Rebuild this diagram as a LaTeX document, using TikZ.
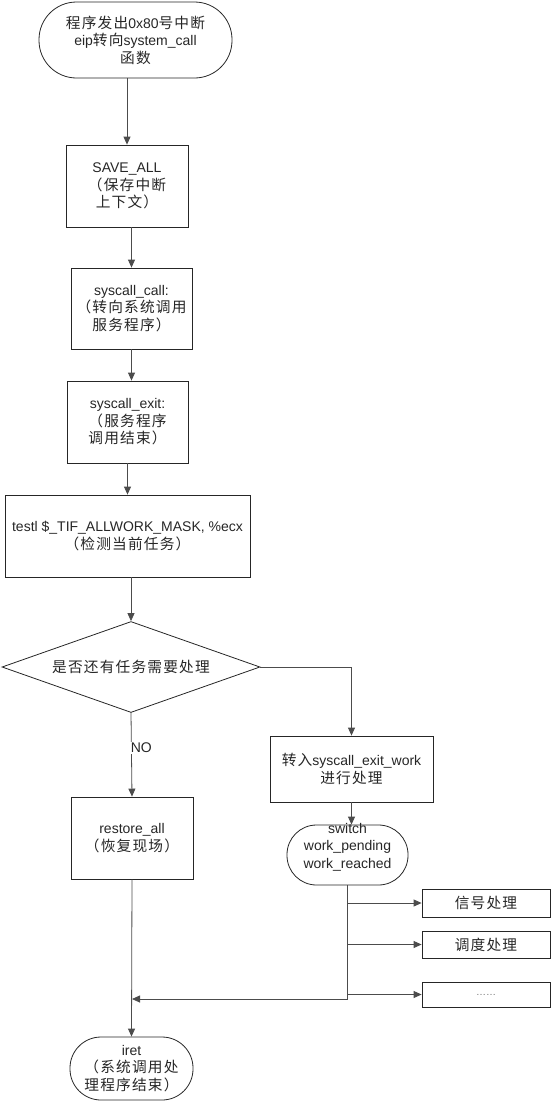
\documentclass[tikz,border=0pt]{standalone}
\usepackage{fontspec}
\setmainfont{Liberation Sans}
\newfontfamily\cjk[Scale=1.05,LetterSpace=8]{Noto Sans CJK SC}
\newcommand{\zh}[1]{{\cjk #1}}
\usetikzlibrary{shapes,arrows.meta,positioning}

\begin{document}
\begin{tikzpicture}[x=1pt,y=-1pt,
    every node/.style={font=\fontsize{14}{17.5}\selectfont, align=center, text=black!85},
    box/.style={draw=black!85, line width=0.8pt, inner sep=0pt},
    term/.style={box, rounded corners=#1},
    arr/.style={draw=black!70, line width=0.8pt, -{Triangle[length=8pt,width=7pt]}}]
            \useasboundingbox (0,0) rectangle (554,1103);

            % the main column
            \node[term=37.5pt, minimum width=193pt, minimum height=76pt] (start) at (135.5,40)
              {\zh{程序发出}0x80\zh{号中断}\\eip\zh{转向}system\_call\\\zh{函数}};
            \node[box, minimum width=122pt, minimum height=82pt] (save) at (127,186)
              {SAVE\_ALL\\\zh{（保存中断}\\\zh{上下文）}};
            \node[box, minimum width=121pt, minimum height=81pt] (call) at (131.5,308.5)
              {syscall\_call:\\\zh{（转向系统调用}\\\zh{服务程序）}};
            \node[box, minimum width=121pt, minimum height=82pt] (exit) at (127.5,422)
              {syscall\_exit:\\\zh{（服务程序}\\\zh{调用结束）}};
            \node[box, minimum width=245pt, minimum height=82pt] (testl) at (127.5,536)
              {testl \$\_TIF\_ALLWORK\_MASK, \%ecx\\\zh{（检测当前任务）}};
            \node[box, diamond, aspect=2.84, minimum width=258pt, minimum height=91pt] (decision) at (131,667)
              {\zh{是否还有任务需要处理}};
            \node[box, minimum width=122pt, minimum height=82pt] (restore) at (132,838)
              {restore\_all\\\zh{（恢复现场）}};
            \node[term=31pt, minimum width=123pt, minimum height=63pt] (iret) at (131.5,1068.5)
              {iret\\\zh{（系统调用处}\\\zh{理程序结束）}};

            % the work branch
            \node[box, minimum width=163pt, minimum height=66pt] (work) at (351.5,769)
              {\zh{转入}syscall\_exit\_work\\\zh{进行处理}};
            \node[term=29.5pt, minimum width=121pt, minimum height=60pt,
              label={[yshift=8pt]center:{switch\\work\_pending\\work\_reached}}] (switch) at (347.5,855) {};
            \node[box, minimum width=128pt, minimum height=28pt] (sig) at (486,903) {\zh{信号处理}};
            \node[box, minimum width=128pt, minimum height=27pt] (sched) at (486,944.5) {\zh{调度处理}};
            \node[box, minimum width=128pt, minimum height=25pt] (more) at (486,994.5)
              {\fontsize{10}{12}\selectfont\color{black!55}……};
            \coordinate (merge) at (132,999);

            % the arrows
            \draw[arr] (start.south -| save.north) -- (save.north);
            \draw[arr] (call.north |- save.south) -- (call.north);
            \draw[arr] (call.south) -- (call.south |- exit.north);
            \draw[arr] (exit.south) -- (testl.north);
            \draw[arr] (decision.north |- testl.south) -- (decision.north);
            \draw[arr] (decision.south) -- node[pos=0.42, anchor=west, xshift=-2pt, fill=white, inner sep=1pt] (no) {NO} (restore.north);
            \draw[arr] (decision.east) -| (work.north);
            \draw[arr] (work.south) -- (work.south |- switch.north);
            \draw[arr] (switch.south) -- (switch.south |- merge) -- (merge);
            \foreach \k in {sig,sched,more}
              \draw[arr] (switch.south |- \k.west) -- (\k.west);
            \draw[arr] (restore.south) -- (iret.north);
        \end{tikzpicture}
\end{document}
